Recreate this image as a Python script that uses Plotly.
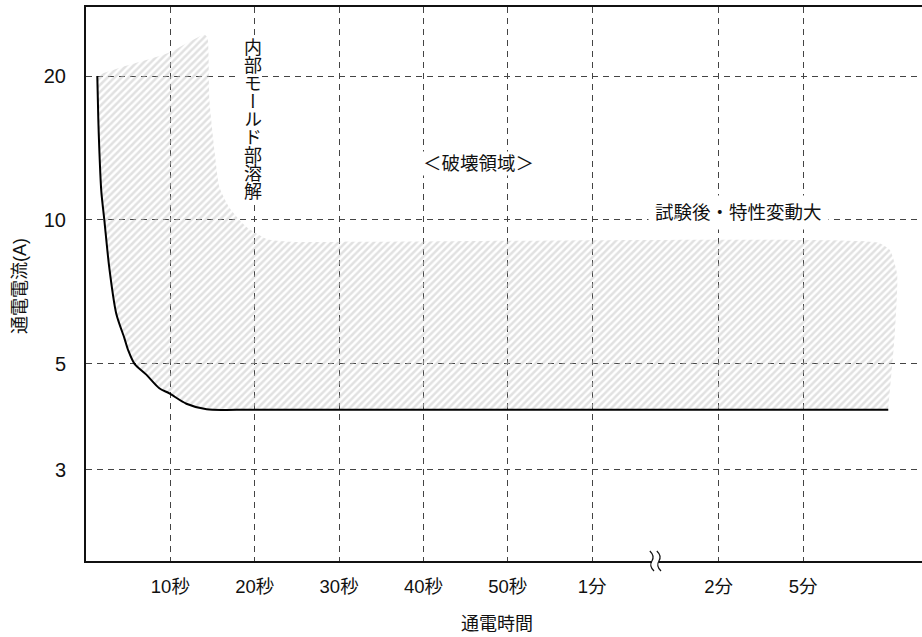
import math
import plotly.graph_objects as go

# ---------------- data ----------------
tick_labels = ["10秒", "20秒", "30秒", "40秒", "50秒", "1分", "2分", "5分"]
tick_pos = [1, 2, 3, 4, 5, 6, 7.5, 8.5]

y_ticks = [3, 5, 10, 20]
y_tick_labels = ["3", "5", "10", "20"]

# black limit curve (x in tick units, y in A)
curve_x = [0.134, 0.146, 0.158, 0.181, 0.217, 0.276, 0.359, 0.454, 0.502, 0.573,
           0.715, 0.869, 0.988, 1.19, 1.43, 1.82, 9.51]
curve_y = [20.0, 16.2, 14.0, 11.5, 10.0, 7.94, 6.36, 5.66, 5.32, 5.0,
           4.74, 4.44, 4.33, 4.12, 4.01, 4.0, 4.0]

# upper boundary of the hatched destruction region
region_x = [0.134, 0.430, 0.715, 0.988, 1.225, 1.403, 1.439, 1.463, 1.522, 1.582,
            1.700, 1.902, 2.139, 2.41, 9.38, 9.53, 9.615, 9.59, 9.51]
region_y = [20.1, 20.9, 21.6, 22.4, 23.6, 24.4, 24.1, 17.8, 14.0, 11.7,
            10.6, 9.66, 9.12, 9.0, 8.96, 8.64, 7.69, 5.85, 4.0]

x_range = [0, 9.91]
y_range = [1.93, 27.9]

# ---------------- layout helpers ----------------
W, H = 922, 637
ML, MR, MT, MB = 86, 0, 7, 76
PW, PH = W - ML - MR, H - MT - MB
FONT = "Liberation Sans, Arial, Noto Sans CJK JP, sans-serif"


def px_x(px):
    return (px - ML) / PW


def px_y(py):
    return (H - MB - py) / PH


fig = go.Figure()

# hatched region: top boundary then back along the curve
reg_fx = region_x + curve_x[::-1]
reg_fy = region_y + curve_y[::-1]
fig.add_trace(go.Scatter(
    x=reg_fx, y=reg_fy, mode="lines", fill="toself",
    line=dict(width=0, shape="spline", smoothing=0.5),
    fillcolor="rgba(0,0,0,0)",
    fillpattern=dict(shape="/", fgcolor="#c4c4c4", bgcolor="rgba(0,0,0,0)",
                     size=5, solidity=0.5, fillmode="overlay"),
    hoverinfo="skip", showlegend=False,
))

fig.add_trace(go.Scatter(
    x=curve_x, y=curve_y, mode="lines",
    line=dict(color="black", width=2, shape="spline", smoothing=0.8),
    showlegend=False,
))

grid = dict(showgrid=True, gridcolor="#444444", gridwidth=1, griddash="6px,5px")

fig.update_layout(
    width=W, height=H,
    margin=dict(l=ML, r=MR, t=MT, b=MB, autoexpand=False),
    paper_bgcolor="white", plot_bgcolor="white",
    font=dict(family=FONT, size=18, color="#111111"),
    xaxis=dict(range=x_range, tickvals=tick_pos, ticktext=tick_labels,
               showline=True, linecolor="#111111", linewidth=2, mirror=True,
               ticks="", zeroline=False, ticklabelstandoff=8,
               tickfont=dict(size=18.5), **grid),
    yaxis=dict(type="log", range=[math.log10(y_range[0]), math.log10(y_range[1])],
               tickvals=y_ticks, ticktext=y_tick_labels,
               showline=True, linecolor="#111111", linewidth=2, mirror=False,
               ticks="", zeroline=False, ticklabelstandoff=14,
               tickfont=dict(size=20), **grid),
)

A = dict(xref="paper", yref="paper", showarrow=False, xanchor="center", yanchor="middle")
ann = []
# axis titles
ann.append(dict(text="通電時間", x=px_x(497), y=px_y(624), font=dict(size=18), **A))
ann.append(dict(text="通電電流(A)", x=px_x(20), y=px_y(286), textangle=-90,
                font=dict(size=18), **A))
# region labels
ann.append(dict(text="＜破壊領域＞", x=px_x(478), y=px_y(163), bgcolor="white",
                font=dict(size=18.5), **A))
ann.append(dict(text="試験後・特性変動大", x=px_x(738), y=px_y(213), bgcolor="white",
                borderpad=6, font=dict(size=18.5), **A))
# vertical label (set to vertical writing mode by the post script), white band behind it
vert = "内部モールド部溶解"
fig.add_shape(type="rect", xref="paper", yref="paper",
              x0=px_x(240), x1=px_x(262), y0=px_y(201), y1=px_y(35),
              fillcolor="white", line=dict(width=0), layer="above")
ann.append(dict(text=vert, x=px_x(251), y=px_y(113), font=dict(size=18), **A))
fig.update_layout(annotations=ann)

# axis break mark between 1分 and 2分
bx = (tick_pos[5] + tick_pos[6]) / 2
dx = 3.5 / PW * (x_range[1] - x_range[0])
hy = 10 / PH
fig.add_shape(type="rect", xref="x", yref="paper", x0=bx - dx, x1=bx + dx, y0=-0.01, y1=0.01,
              fillcolor="white", line=dict(width=0), layer="above")
for off in (-dx, dx):
    cx = bx + off
    w = dx * 0.6
    path = (f"M {cx + w},{-hy} Q {cx - w * 1.5},{-hy / 2} {cx},{0} "
            f"Q {cx + w * 1.5},{hy / 2} {cx - w},{hy}")
    fig.add_shape(type="path", xref="x", yref="paper", path=path,
                  line=dict(color="#111111", width=1.2), layer="above")

post = """
document.body.style.margin='0';
(function(){
  var gd = document.getElementById('{plot_id}');
  gd.querySelectorAll('text.annotation-text').forEach(function(t){
    if (t.textContent === '%s') {
      t.style.writingMode = 'vertical-rl';
      t.setAttribute('text-anchor', 'middle');
      t.setAttribute('dominant-baseline', 'central');
    }
  });
})();
""" % vert

fig.write_html("out.html", config={"displayModeBar": False}, post_script=post)
